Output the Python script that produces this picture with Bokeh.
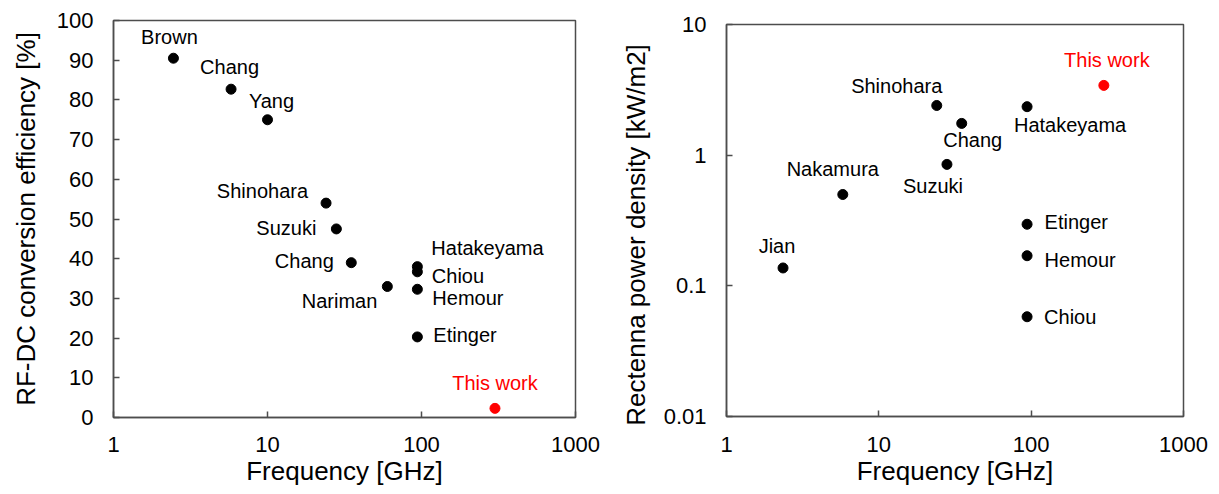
from bokeh.plotting import figure
from bokeh.layouts import row
from bokeh.models import FixedTicker, CustomJSTickFormatter, ColumnDataSource, Range1d
from bokeh.embed import file_html
from bokeh.resources import INLINE
from bokeh.core.properties import value, field

# ---------------- data ----------------
x_ticks = [1, 10, 100, 1000]
x_tick_labels = ["1", "10", "100", "1000"]
x_title = "Frequency [GHz]"

# left chart: RF-DC conversion efficiency
eff_names = ["Brown", "Chang", "Yang", "Shinohara", "Suzuki", "Chang",
             "Nariman", "Hatakeyama", "Chiou", "Hemour", "Etinger"]
eff_freq = [2.45, 5.8, 10, 24, 28, 35, 60, 94, 94, 94, 94]
eff_values = [90.5, 82.7, 75.0, 54.0, 47.5, 39.0, 33.0, 38.0, 36.7, 32.3, 20.3]
eff_this_freq = [300]
eff_this_value = [2.3]
eff_ticks = [0, 10, 20, 30, 40, 50, 60, 70, 80, 90, 100]
eff_tick_labels = ["0", "10", "20", "30", "40", "50", "60", "70", "80", "90", "100"]
eff_title = "RF-DC conversion efficiency [%]"

# right chart: rectenna power density
pd_names = ["Jian", "Nakamura", "Shinohara", "Chang", "Suzuki",
            "Hatakeyama", "Etinger", "Hemour", "Chiou"]
pd_freq = [2.35, 5.8, 24, 35, 28, 94, 94, 94, 94]
pd_values = [0.137, 0.5, 2.4, 1.75, 0.85, 2.35, 0.296, 0.17, 0.058]
pd_this_freq = [300]
pd_this_value = [3.42]
pd_ticks = [0.01, 0.1, 1, 10]
pd_tick_labels = ["0.01", "0.1", "1", "10"]
pd_title = "Rectenna power density  [kW/m2]   "

this_label = "This work"

# ---------------- label placement (style, screen px) ----------------
eff_label_align = ["center", "center", "center", "right", "right", "right",
                   "right", "left", "left", "left", "left"]
eff_label_dx = [-4, -1.5, 4, -18, -20, -17.5, -10, 14, 14.5, 15, 16]
eff_label_dy = [-21, -22, -19, -12, -1, -1.5, 15, -19, 4.5, 9, -2]
eff_this_dx, eff_this_dy = 0, -25.5

pd_label_align = ["center", "center", "center", "center", "center",
                  "center", "left", "left", "left"]
pd_label_dx = [-6, -10, -40, 11, -14, 43, 17.5, 17.5, 17]
pd_label_dy = [-22, -26, -19, 17, 22, 18, -2, 4, 0.5]
pd_this_dx, pd_this_dy = 3, -25

FONT = "Liberation Sans"
FRAME = "#4d4d4d"


def fmt(tvals, tlabels):
    return CustomJSTickFormatter(
        args=dict(tvals=tvals, tlabels=tlabels),
        code="for (let i = 0; i < tvals.length; i++) { if (Math.abs(tvals[i] - tick) <= 1e-9 * Math.abs(tvals[i])) return tlabels[i]; } return String(tick);")


def make_fig(width, height, borders, y_type, y_range, y_ticks, y_labels, y_title,
             y_standoff, x_standoff):
    bl, br, bt, bb = borders
    p = figure(width=width, height=height, x_axis_type="log", y_axis_type=y_type,
               x_range=Range1d(1, 1000), y_range=Range1d(*y_range),
               title=None, output_backend="svg", toolbar_location=None,
               min_border_left=bl, min_border_right=br,
               min_border_top=bt, min_border_bottom=bb)
    p.frame_align = False
    p.grid.visible = False
    p.outline_line_color = FRAME
    p.outline_line_width = 1.5
    p.background_fill_color = "white"
    p.border_fill_color = "white"
    for ax in p.axis:
        ax.axis_line_color = FRAME
        ax.axis_line_width = 1.5
        ax.major_tick_line_color = FRAME
        ax.major_tick_line_width = 1.5
        ax.major_tick_in = 6
        ax.major_tick_out = 0
        ax.minor_tick_line_color = None
        ax.major_label_text_font = FONT
        ax.major_label_text_font_size = "22px"
        ax.major_label_text_color = "black"
        ax.axis_label_text_font = FONT
        ax.axis_label_text_font_size = "26px"
        ax.axis_label_text_font_style = "normal"
        ax.axis_label_text_color = "black"
    p.xaxis.ticker = FixedTicker(ticks=x_ticks)
    p.xaxis.formatter = fmt(x_ticks, x_tick_labels)
    p.xaxis.axis_label = x_title
    p.xaxis.major_label_standoff = x_standoff
    p.xaxis.axis_label_standoff = 1
    p.yaxis.ticker = FixedTicker(ticks=y_ticks)
    p.yaxis.formatter = fmt(y_ticks, y_labels)
    p.yaxis.axis_label = y_title
    p.yaxis.major_label_standoff = 20
    p.yaxis.axis_label_standoff = y_standoff
    return p


def add_points(p, names, xs, ys, aligns, dxs, dys, this_x, this_y, this_dx, this_dy):
    src = ColumnDataSource(dict(x=xs, y=ys, name=names, align=aligns, dx=dxs, dy=dys))
    p.scatter(x="x", y="y", source=src, size=10, fill_color="black", line_color="black")
    p.text(x="x", y="y", text="name", source=src, text_align=field("align"),
           text_baseline="alphabetic", x_offset="dx", y_offset="dy",
           text_font=value(FONT), text_font_size=value("20px"), text_color="black")
    tsrc = ColumnDataSource(dict(x=this_x, y=this_y, name=[this_label] * len(this_x)))
    p.scatter(x="x", y="y", source=tsrc, size=10, fill_color="#ff0000", line_color="#ff0000")
    p.text(x="x", y="y", text="name", source=tsrc, text_align="center",
           text_baseline="alphabetic", x_offset=this_dx, y_offset=this_dy,
           text_font=value(FONT), text_font_size=value("20px"), text_color="#ff0000")


left = make_fig(608, 493, (113, 33, 20, 76), "linear", (0, 100),
                eff_ticks, eff_tick_labels, eff_title, 13, 19)
add_points(left, eff_names, eff_freq, eff_values, eff_label_align, eff_label_dx,
           eff_label_dy, eff_this_freq, eff_this_value, eff_this_dx, eff_this_dy)

right = make_fig(603, 493, (118, 28, 24, 77), "log", (0.01, 10),
                 pd_ticks, pd_tick_labels, pd_title, 10, 20)
add_points(right, pd_names, pd_freq, pd_values, pd_label_align, pd_label_dx,
           pd_label_dy, pd_this_freq, pd_this_value, pd_this_dx, pd_this_dy)

layout = row(left, right)
open("out.html", "w").write(file_html(layout, INLINE))
